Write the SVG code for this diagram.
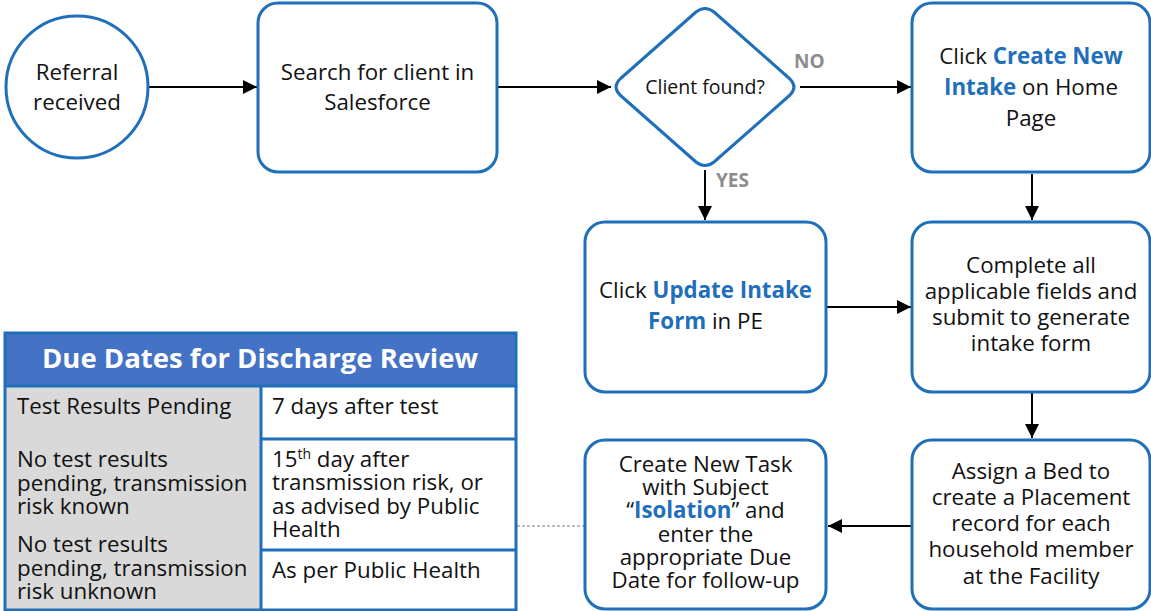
<svg xmlns="http://www.w3.org/2000/svg" width="1151" height="611" viewBox="0 0 1151 611">
<style>
.node{fill:#fff;stroke:#1F6FBA;stroke-width:3}
.t{font-family:"Open Sans",Lato,sans-serif;font-size:22.3px;fill:#111;text-anchor:middle}
.b{font-weight:bold;fill:#1F6FBA}
.lbl{font-family:"Open Sans",Lato,sans-serif;font-size:19px;font-weight:bold;fill:#8C8C8C}
.conn{stroke:#000;stroke-width:2;fill:none;marker-end:url(#ah)}
.tt{font-family:"Open Sans",Lato,sans-serif;font-size:22.3px;fill:#111}
.cell{stroke:#1F6FBA;stroke-width:3}
</style>
<defs>
<marker id="ah" markerUnits="userSpaceOnUse" markerWidth="14" markerHeight="14" refX="14" refY="7" orient="auto">
<path d="M0,0 L14,7 L0,14 Z" fill="#000"/>
</marker>
</defs>
<g id="connectors">
<line class="conn" x1="149" y1="87" x2="257" y2="87"/>
<line class="conn" x1="498" y1="87" x2="611" y2="87"/>
<line class="conn" x1="800" y1="87" x2="911" y2="87"/>
<line class="conn" x1="705" y1="170" x2="705" y2="220"/>
<line class="conn" x1="1032" y1="174" x2="1032" y2="220"/>
<line class="conn" x1="827" y1="307" x2="911" y2="307"/>
<line class="conn" x1="1032" y1="393" x2="1032" y2="438"/>
<line class="conn" x1="911" y1="526" x2="828" y2="526"/>
<line x1="517" y1="526" x2="584" y2="526" stroke="#A6A6A6" stroke-width="1.5" stroke-dasharray="3,2"/>
<text class="lbl" x="794" y="68">NO</text>
<text class="lbl" x="716" y="187">YES</text>
</g>
<g id="referral">
<circle class="node" cx="77" cy="87" r="71"/>
<text class="t" x="77" y="80">Referral</text>
<text class="t" x="77" y="110">received</text>
</g>
<g id="search">
<rect class="node" x="258" y="3" width="239" height="169" rx="20"/>
<text class="t" x="377.5" y="80">Search for client in</text>
<text class="t" x="377.5" y="110">Salesforce</text>
</g>
<g id="decision">
<path class="node" d="M696,12 Q705,5 714,12 L790,79 Q798,87 790,95 L714,162 Q705,169 696,162 L620,95 Q612,87 620,79 Z" stroke-linejoin="round"/>
<text class="t" x="705" y="94" style="font-size:19.5px">Client found?</text>
</g>
<g id="create-intake">
<rect class="node" x="912" y="3" width="238" height="169" rx="20"/>
<text class="t" x="1031" y="64">Click <tspan class="b">Create New</tspan></text>
<text class="t" x="1031" y="95"><tspan class="b">Intake</tspan> on Home</text>
<text class="t" x="1031" y="126">Page</text>
</g>
<g id="update-intake">
<rect class="node" x="585" y="222" width="241" height="170" rx="20"/>
<text class="t" x="705.5" y="298">Click <tspan class="b">Update Intake</tspan></text>
<text class="t" x="705.5" y="329"><tspan class="b">Form</tspan> in PE</text>
</g>
<g id="complete">
<rect class="node" x="912" y="222" width="238" height="170" rx="20"/>
<text class="t" x="1031" y="273">Complete all</text>
<text class="t" x="1031" y="299">applicable fields and</text>
<text class="t" x="1031" y="325">submit to generate</text>
<text class="t" x="1031" y="351">intake form</text>
</g>
<g id="assign">
<rect class="node" x="912" y="440" width="238" height="169" rx="20"/>
<text class="t" x="1031" y="479">Assign a Bed to</text>
<text class="t" x="1031" y="505">create a Placement</text>
<text class="t" x="1031" y="531">record for each</text>
<text class="t" x="1031" y="557">household member</text>
<text class="t" x="1031" y="584">at the Facility</text>
</g>
<g id="create-task">
<rect class="node" x="585" y="440" width="241" height="169" rx="20"/>
<text class="t" x="705.5" y="472">Create New Task</text>
<text class="t" x="705.5" y="495">with Subject</text>
<text class="t" x="705.5" y="518">“<tspan class="b">Isolation</tspan>” and</text>
<text class="t" x="705.5" y="542">enter the</text>
<text class="t" x="705.5" y="565">appropriate Due</text>
<text class="t" x="705.5" y="588">Date for follow-up</text>
</g>
<g id="due-dates-table">
<rect x="5" y="333" width="511" height="277" fill="#fff"/>
<rect x="5" y="333" width="511" height="53" fill="#4472C4"/>
<rect x="5" y="386" width="255" height="224" fill="#D9D9D9"/>
<text x="260" y="368" style="font-family:'Open Sans',Lato,sans-serif;font-size:27.5px;font-weight:bold;fill:#fff;text-anchor:middle">Due Dates for Discharge Review</text>
<line class="cell" x1="5" y1="386" x2="516" y2="386"/>
<line class="cell" x1="261" y1="386" x2="261" y2="610"/>
<line class="cell" x1="261" y1="439" x2="516" y2="439"/>
<line class="cell" x1="261" y1="550" x2="516" y2="550"/>
<rect x="5" y="333" width="511" height="277" fill="none" stroke="#1F6FBA" stroke-width="3"/>
<text class="tt" x="17" y="414">Test Results Pending</text>
<text class="tt" x="17" y="467">No test results</text>
<text class="tt" x="17" y="491">pending, transmission</text>
<text class="tt" x="17" y="514">risk known</text>
<text class="tt" x="17" y="552">No test results</text>
<text class="tt" x="17" y="576">pending, transmission</text>
<text class="tt" x="17" y="599">risk unknown</text>
<text class="tt" x="272" y="414">7 days after test</text>
<text class="tt" x="272" y="467">15<tspan dy="-8" style="font-size:14px">th</tspan><tspan dy="8"> day after</tspan></text>
<text class="tt" x="272" y="490">transmission risk, or</text>
<text class="tt" x="272" y="514">as advised by Public</text>
<text class="tt" x="272" y="537">Health</text>
<text class="tt" x="272" y="578">As per Public Health</text>
</g>
</svg>
